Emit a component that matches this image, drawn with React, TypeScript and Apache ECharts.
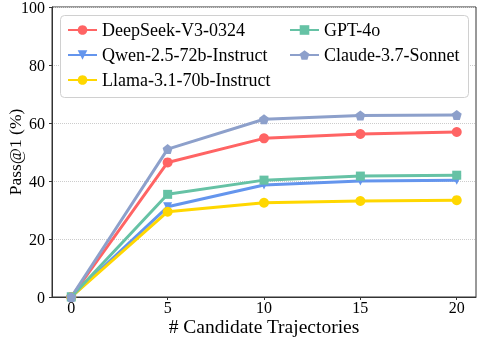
import React, { useEffect, useRef } from "react";
import * as echarts from "echarts";

const xValues = [0, 5, 10, 15, 20];
const xTicks = [0, 5, 10, 15, 20];
const deepseek = [0, 46.4, 54.7, 56.2, 56.9];
const qwen = [0, 31.1, 38.6, 40.0, 40.3];
const llama = [0, 29.4, 32.5, 33.1, 33.4];
const gpt4o = [0, 35.4, 40.3, 41.7, 42.0];
const claude = [0, 51.0, 61.3, 62.6, 62.8];

const names = [
  "DeepSeek-V3-0324",
  "Qwen-2.5-72b-Instruct",
  "Llama-3.1-70b-Instruct",
  "GPT-4o",
  "Claude-3.7-Sonnet",
];

const FONT = "Liberation Serif";

export default function App() {
  const ref = useRef<HTMLDivElement>(null);
  useEffect(() => {
    if (!ref.current) return;
    const chart = echarts.init(ref.current, undefined, { renderer: "svg" });
    const pair = (ys: number[]) => xValues.map((x, i) => [x, ys[i]]);
    const mk = (
      name: string,
      ys: number[],
      color: string,
      symbol: string,
      size: number
    ) => ({
      name,
      type: "line",
      data: pair(ys),
      symbol,
      symbolSize: size,
      showAllSymbol: true,
      lineStyle: { color, width: 3 },
      itemStyle: { color },
      z: 3,
    });
    const pent = "path://M0,-1 L0.951,-0.309 L0.588,0.809 L-0.588,0.809 L-0.951,-0.309 Z";
    const triDown = "path://M-1,-0.8 L1,-0.8 L0,1 Z";
    const legendText = {
      fontFamily: FONT,
      fontSize: 18,
      fontWeight: "normal",
      color: "#000",
      lineHeight: 18,
    };
    const legendBase = {
      orient: "vertical",
      top: 21,
      padding: 0,
      itemWidth: 29,
      itemHeight: 12,
      itemGap: 7,
      textStyle: legendText,
      z: 60,
    };
    chart.setOption({
      animation: false,
      textStyle: { fontFamily: FONT },
      grid: {
        left: 52,
        right: 2,
        top: 7,
        bottom: 42,
        containLabel: false,
        outerBoundsMode: "none",
        show: true,
        borderColor: "#333",
        borderWidth: 1,
        backgroundColor: "transparent",
      },
      graphic: [
        {
          type: "rect",
          shape: { x: 60.5, y: 15.5, width: 408, height: 82, r: 4 },
          style: { fill: "#fff", stroke: "#d0d0d0", lineWidth: 1 },
          z: 50,
          silent: true,
        },
      ],
      legend: [
        { ...legendBase, data: names.slice(0, 3), left: 67 },
        { ...legendBase, data: names.slice(3), left: 289 },
      ],
      xAxis: {
        type: "value",
        min: -1,
        max: 21,
        name: "# Candidate Trajectories",
        nameLocation: "middle",
        nameGap: 19,
        nameMoveOverlap: false,
        nameTextStyle: { fontFamily: FONT, fontSize: 19.5, color: "#000" },
        axisLine: { show: true, onZero: false, lineStyle: { color: "#333", width: 1 } },
        axisTick: { show: true, length: 3, customValues: xTicks, lineStyle: { color: "#333" } },
        axisLabel: {
          customValues: xTicks,
          fontFamily: FONT,
          fontSize: 16,
          color: "#000",
          margin: 2,
        },
        splitLine: { show: false },
      },
      yAxis: {
        type: "value",
        min: 0,
        max: 100,
        interval: 20,
        name: "Pass@1 (%)",
        nameLocation: "middle",
        nameGap: 28,
        nameMoveOverlap: false,
        nameTextStyle: { fontFamily: FONT, fontSize: 17.5, color: "#000" },
        axisLine: { show: true, onZero: false, lineStyle: { color: "#333", width: 1 } },
        axisTick: { show: true, length: 3, lineStyle: { color: "#333" } },
        axisLabel: { fontFamily: FONT, fontSize: 16, color: "#000", margin: 7 },
        splitLine: { show: true, lineStyle: { color: "#cccccc", type: "dotted", width: 1 } },
      },
      series: [
        mk(names[0], deepseek, "#FF6464", "circle", 10),
        mk(names[1], qwen, "#6495ED", triDown, 9),
        mk(names[2], llama, "#FFD700", "circle", 10),
        mk(names[3], gpt4o, "#66C2A5", "rect", 9),
        mk(names[4], claude, "#8DA0CB", pent, 10),
      ],
    });
    return () => chart.dispose();
  }, []);
  return (
    <div
      ref={ref}
      style={{ position: "fixed", left: 0, top: 0, width: 478, height: 339 }}
    />
  );
}
